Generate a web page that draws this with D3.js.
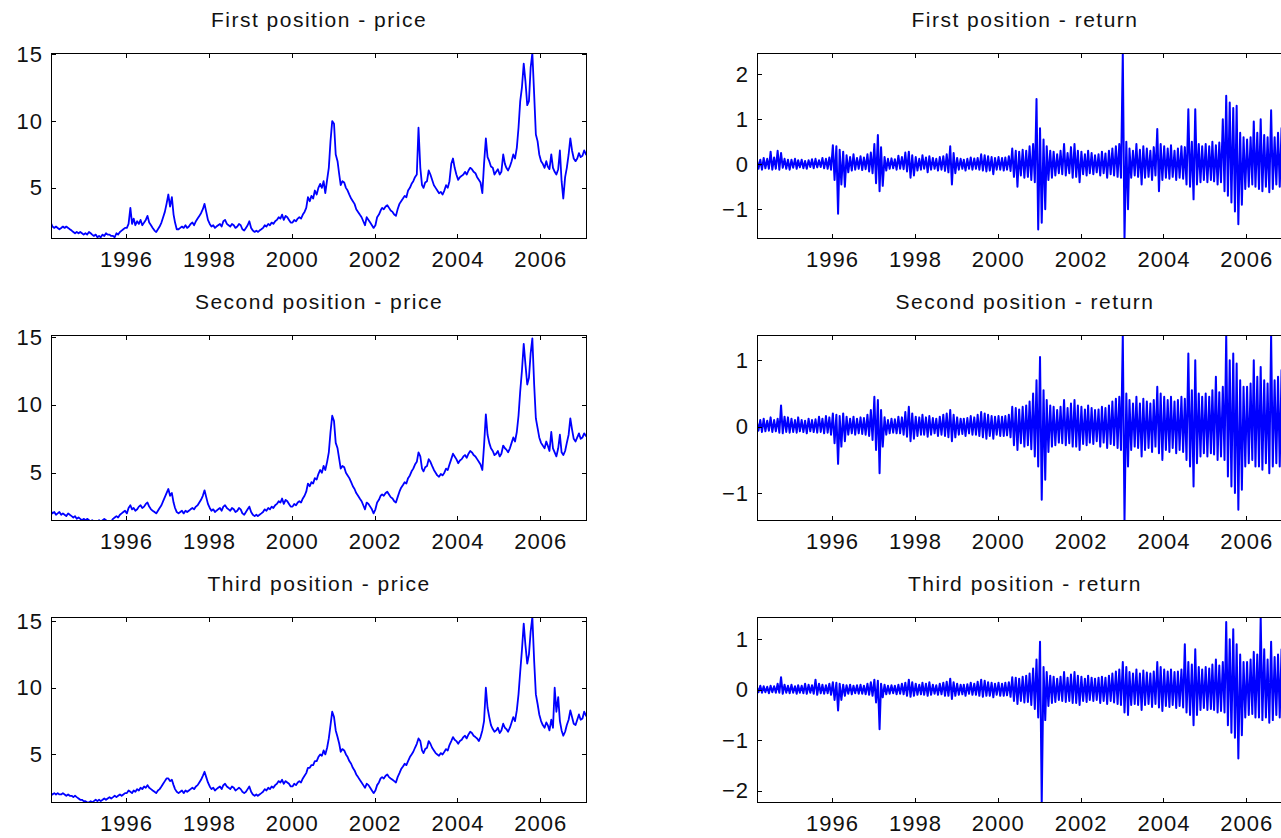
<!DOCTYPE html>
<html>
<head>
<meta charset="utf-8">
<script src="https://cdn.jsdelivr.net/npm/d3@7"></script>
<style>
  body { margin: 0; background: #fff; }
  svg { display: block; }
  text { font-family: "Liberation Sans", Arial, sans-serif; fill: #111; }
</style>
</head>
<body>
<svg width="1281" height="838"></svg>
<script>
// Readings, two per month (early / late), Mar 1994 - Feb 2007.
// One row per year; 1994 starts in March, 2007 stops after February.
const price1 = [
  2.4,2.1, 2.0,2.1, 2.0,1.9, 2.0,2.1, 2.0,2.1, 2.0,1.9, 1.8,1.7, 1.6,1.7, 1.6,1.7, 1.6,1.5,
  1.6,1.5, 1.7,1.6, 1.5,1.4, 1.5,1.3, 1.4,1.3, 1.5,1.4, 1.6,1.5, 1.5,1.4, 1.4,1.3, 1.6,1.5, 1.7,1.8, 1.9,2.0,
  2.0,2.3, 3.5,2.3, 2.7,2.2, 2.5,2.3, 2.6,2.2, 2.4,2.6, 2.9,2.4, 2.2,2.0, 1.8,1.7, 1.9,2.1, 2.4,2.8, 3.2,3.8,
  4.5,3.6, 4.3,3.0, 2.4,1.9, 1.9,2.0, 2.1,2.0, 2.2,2.0, 2.1,2.3, 2.4,2.2, 2.5,2.7, 2.9,3.1, 3.4,3.8, 3.2,2.6,
  2.3,2.1, 2.2,2.0, 2.1,2.2, 2.3,2.1, 2.5,2.6, 2.3,2.2, 2.1,2.3, 2.2,2.0, 2.1,2.3, 2.2,1.9, 1.8,2.0, 2.2,2.5,
  2.0,1.8, 1.7,1.8, 1.7,1.8, 1.9,2.0, 2.2,2.1, 2.3,2.2, 2.4,2.3, 2.5,2.6, 2.8,2.7, 3.0,2.6, 2.9,2.8, 2.6,2.4,
  2.4,2.6, 2.5,2.7, 2.8,2.7, 3.0,3.2, 3.5,4.3, 4.0,4.4, 4.2,4.8, 4.5,5.0, 5.3,5.0, 5.5,4.6, 5.6,6.5, 8.5,10.0,
  9.8,7.5, 7.0,6.0, 5.2,5.5, 5.4,5.0, 4.8,4.5, 4.2,4.0, 3.8,3.4, 3.2,3.0, 2.8,2.5, 2.2,2.8, 2.6,2.4, 2.2,2.0,
  2.2,2.8, 3.0,3.3, 3.5,3.4, 3.6,3.7, 3.5,3.3, 3.2,3.0, 2.9,3.4, 3.8,4.0, 4.2,4.4, 4.3,4.8, 5.0,5.3, 5.5,5.8,
  6.0,9.5, 6.5,5.2, 5.0,5.4, 5.5,6.3, 6.0,5.6, 5.2,5.0, 4.8,4.6, 4.7,4.5, 4.8,5.2, 5.0,5.5, 6.8,7.2, 6.5,6.0,
  5.6,5.8, 5.9,6.0, 6.2,6.0, 6.3,6.5, 6.4,6.2, 6.1,5.8, 5.6,5.4, 4.6,6.8, 8.7,7.3, 7.0,6.6, 6.5,6.0, 6.2,6.4,
  6.0,6.2, 7.5,6.8, 6.5,6.3, 6.6,7.0, 7.5,7.2, 8.0,9.5, 11.5,12.5, 14.3,13.0, 11.2,11.5, 14.0,15.1, 12.0,9.0, 8.5,7.5,
  7.0,6.8, 6.5,7.0, 6.6,6.4, 7.5,6.5, 6.2,6.0, 6.4,7.8, 5.5,4.2, 5.8,6.5, 7.5,8.7, 7.8,7.2, 7.0,7.2, 7.6,7.3,
  7.4,7.8, 7.5,7.6
];

const price2 = [
  2.2,2.0, 2.1,1.9, 2.0,2.1, 1.9,2.0, 1.9,1.8, 2.0,1.9, 1.8,1.7, 1.8,1.6, 1.7,1.6, 1.5,1.6,
  1.5,1.6, 1.5,1.4, 1.5,1.4, 1.3,1.4, 1.5,1.4, 1.5,1.6, 1.5,1.4, 1.3,1.4, 1.6,1.7, 1.8,1.7, 1.9,2.0, 2.1,2.2,
  2.0,2.4, 2.6,2.3, 2.4,2.2, 2.3,2.5, 2.6,2.4, 2.5,2.7, 2.8,2.5, 2.3,2.2, 2.1,2.0, 2.2,2.4, 2.6,2.9, 3.2,3.5,
  3.8,3.3, 3.5,2.8, 2.4,2.1, 2.0,2.1, 2.2,2.0, 2.2,2.1, 2.2,2.3, 2.4,2.3, 2.5,2.6, 2.8,3.0, 3.3,3.7, 3.2,2.7,
  2.4,2.2, 2.3,2.1, 2.2,2.3, 2.4,2.2, 2.5,2.6, 2.4,2.3, 2.2,2.4, 2.3,2.1, 2.2,2.4, 2.3,2.0, 1.9,2.1, 2.3,2.5,
  2.1,1.9, 1.8,1.9, 1.8,1.9, 2.0,2.1, 2.3,2.2, 2.4,2.3, 2.5,2.4, 2.6,2.7, 2.9,2.8, 3.1,2.7, 3.0,2.9, 2.7,2.5,
  2.5,2.7, 2.6,2.8, 2.9,2.8, 3.1,3.3, 3.6,4.2, 4.0,4.3, 4.2,4.6, 4.5,4.9, 5.2,5.0, 5.5,5.2, 5.8,6.5, 8.0,9.2,
  8.8,7.2, 6.8,6.0, 5.3,5.5, 5.4,5.0, 4.8,4.6, 4.3,4.0, 3.8,3.5, 3.3,3.1, 2.9,2.6, 2.3,2.8, 2.7,2.5, 2.3,2.0,
  2.3,2.8, 3.0,3.3, 3.4,3.3, 3.5,3.6, 3.4,3.2, 3.1,2.9, 2.8,3.2, 3.6,3.9, 4.1,4.3, 4.2,4.6, 4.8,5.1, 5.3,5.6,
  5.8,6.5, 6.2,5.3, 5.1,5.4, 5.5,6.0, 5.8,5.5, 5.2,5.0, 4.8,4.7, 4.9,4.8, 5.0,5.3, 5.2,5.6, 6.0,6.4, 6.2,6.0,
  5.7,5.9, 6.0,6.2, 6.3,6.1, 6.4,6.6, 6.5,6.3, 6.2,6.0, 5.8,5.6, 5.2,7.0, 9.3,7.8, 7.2,6.8, 6.6,6.3, 6.4,6.6,
  6.2,6.4, 7.0,6.8, 6.7,6.5, 6.8,7.2, 7.6,7.3, 8.0,9.2, 11.0,12.5, 14.5,13.0, 11.5,12.0, 13.8,14.9, 11.5,9.0, 8.3,7.6,
  7.2,7.0, 6.8,7.3, 7.0,6.6, 8.0,6.8, 6.5,6.2, 6.8,7.8, 6.5,6.3, 6.6,7.2, 7.8,9.0, 8.2,7.5, 7.3,7.6, 7.9,7.5,
  7.6,7.9, 7.7,7.8
];

const price3 = [
  2.1,2.0, 2.1,2.0, 2.1,2.0, 2.0,2.1, 2.0,1.9, 2.0,1.9, 1.9,1.8, 1.9,1.8, 1.7,1.6, 1.6,1.5,
  1.5,1.4, 1.4,1.5, 1.4,1.5, 1.6,1.5, 1.6,1.5, 1.6,1.7, 1.6,1.7, 1.8,1.7, 1.8,1.9, 1.8,1.9, 2.0,1.9, 2.0,2.1,
  2.1,2.3, 2.2,2.1, 2.3,2.2, 2.4,2.3, 2.5,2.4, 2.6,2.5, 2.7,2.5, 2.4,2.3, 2.2,2.1, 2.3,2.4, 2.6,2.8, 3.0,3.2,
  3.2,3.0, 3.1,2.7, 2.4,2.2, 2.1,2.2, 2.3,2.1, 2.3,2.2, 2.3,2.4, 2.5,2.4, 2.6,2.7, 2.9,3.1, 3.4,3.7, 3.3,2.9,
  2.6,2.4, 2.5,2.3, 2.4,2.5, 2.6,2.4, 2.7,2.8, 2.6,2.5, 2.4,2.6, 2.5,2.3, 2.4,2.5, 2.4,2.2, 2.1,2.2, 2.4,2.6,
  2.2,2.0, 1.9,2.0, 1.9,2.0, 2.1,2.2, 2.4,2.3, 2.5,2.4, 2.6,2.5, 2.7,2.8, 3.0,2.9, 3.1,2.8, 3.0,2.9, 2.8,2.6,
  2.6,2.8, 2.7,2.9, 3.0,2.9, 3.2,3.4, 3.6,4.0, 4.0,4.2, 4.2,4.5, 4.5,4.8, 5.0,4.9, 5.3,5.0, 5.5,6.2, 7.2,8.2,
  7.8,6.8, 6.3,5.8, 5.2,5.4, 5.3,5.0, 4.8,4.5, 4.3,4.0, 3.8,3.5, 3.3,3.1, 2.9,2.7, 2.5,2.8, 2.7,2.5, 2.3,2.1,
  2.3,2.7, 2.9,3.2, 3.3,3.2, 3.4,3.5, 3.3,3.2, 3.1,3.0, 2.9,3.3, 3.6,3.9, 4.1,4.3, 4.2,4.5, 4.8,5.0, 5.2,5.5,
  5.8,6.2, 6.0,5.3, 5.1,5.4, 5.5,6.0, 5.8,5.5, 5.3,5.1, 5.0,4.9, 5.1,5.0, 5.2,5.4, 5.3,5.7, 6.0,6.3, 6.1,6.0,
  5.8,6.0, 6.1,6.3, 6.4,6.2, 6.5,6.7, 6.6,6.4, 6.3,6.2, 6.0,6.3, 6.8,7.5, 10.0,8.5, 7.8,7.2, 6.9,6.7, 6.8,7.0,
  6.6,6.8, 7.3,7.0, 6.9,6.7, 7.0,7.4, 7.8,7.5, 8.3,9.5, 11.2,12.8, 14.8,13.2, 11.8,12.5, 14.2,15.3, 12.0,9.5, 8.8,8.0,
  7.5,7.2, 7.0,7.4, 7.2,6.8, 7.6,7.0, 10.0,8.2, 9.3,7.5, 6.8,6.4, 6.7,7.2, 7.6,8.3, 7.8,7.3, 7.2,7.6, 8.0,7.6,
  7.7,8.2, 7.9,8.1
];

// returns: upper swing, then lower swing, each half month
const return1 = [
  0.12,-0.10, 0.10,-0.12, 0.14,-0.09, 0.12,-0.10, 0.28,-0.12, 0.15,-0.10, 0.30,-0.12, 0.25,-0.08, 0.12,-0.10, 0.10,-0.12,
  0.10,-0.08, 0.12,-0.10, 0.09,-0.07, 0.10,-0.09, 0.07,-0.10, 0.09,-0.06, 0.11,-0.09, 0.12,-0.07, 0.09,-0.06, 0.14,-0.09, 0.12,-0.10, 0.15,-0.12,
  0.42,-0.35, 0.40,-1.10, 0.32,-0.45, 0.28,-0.50, 0.20,-0.18, 0.16,-0.14, 0.22,-0.12, 0.14,-0.10, 0.18,-0.13, 0.15,-0.11, 0.22,-0.16, 0.26,-0.20,
  0.45,-0.42, 0.65,-0.60, 0.38,-0.48, 0.16,-0.14, 0.12,-0.10, 0.13,-0.09, 0.11,-0.12, 0.19,-0.10, 0.16,-0.11, 0.26,-0.16, 0.28,-0.30, 0.20,-0.25,
  0.16,-0.14, 0.12,-0.12, 0.20,-0.10, 0.15,-0.18, 0.18,-0.12, 0.14,-0.10, 0.12,-0.14, 0.16,-0.12, 0.18,-0.15, 0.22,-0.18, 0.40,-0.45, 0.25,-0.20,
  0.14,-0.12, 0.12,-0.10, 0.10,-0.14, 0.12,-0.10, 0.15,-0.12, 0.13,-0.10, 0.14,-0.12, 0.22,-0.14, 0.20,-0.16, 0.18,-0.14, 0.16,-0.22, 0.14,-0.12,
  0.16,-0.12, 0.14,-0.14, 0.15,-0.12, 0.18,-0.15, 0.35,-0.28, 0.30,-0.50, 0.28,-0.25, 0.32,-0.30, 0.30,-0.28, 0.40,-0.35, 0.45,-0.40, 1.45,-1.45,
  0.80,-1.30, 0.55,-1.00, 0.40,-0.35, 0.30,-0.30, 0.28,-0.25, 0.22,-0.20, 0.30,-0.22, 0.45,-0.25, 0.25,-0.20, 0.38,-0.30, 0.45,-0.28, 0.30,-0.40,
  0.28,-0.22, 0.22,-0.25, 0.30,-0.20, 0.25,-0.22, 0.20,-0.18, 0.22,-0.25, 0.28,-0.20, 0.24,-0.30, 0.30,-0.22, 0.35,-0.25, 0.40,-0.28, 0.45,-0.30,
  2.47,-1.66, 0.50,-1.00, 0.35,-0.30, 0.30,-0.25, 0.45,-0.28, 0.32,-0.45, 0.40,-0.30, 0.35,-0.28, 0.30,-0.35, 0.38,-0.25, 0.78,-0.60, 0.45,-0.35,
  0.40,-0.30, 0.35,-0.32, 0.42,-0.28, 0.30,-0.35, 0.35,-0.30, 0.40,-0.32, 0.38,-0.45, 1.22,-0.50, 0.50,-0.78, 1.22,-0.45, 0.45,-0.40, 0.40,-0.35,
  0.45,-0.40, 0.40,-0.35, 0.50,-0.38, 0.42,-0.45, 0.48,-0.40, 1.00,-0.60, 1.52,-0.70, 1.37,-0.85, 1.25,-1.05, 1.30,-1.33, 0.70,-0.90, 0.60,-0.55,
  0.55,-0.50, 0.60,-0.45, 0.95,-0.50, 0.70,-0.55, 1.00,-0.60, 0.65,-0.50, 0.60,-0.62, 1.20,-0.55, 0.60,-0.45, 0.70,-0.50, 0.80,-0.55, 0.65,-0.50,
  0.60,-0.45, 0.55,-0.40
];

const return2 = [
  0.08,-0.06, 0.10,-0.08, 0.12,-0.07, 0.09,-0.06, 0.14,-0.08, 0.10,-0.07, 0.12,-0.09, 0.32,-0.10, 0.15,-0.08, 0.14,-0.09,
  0.12,-0.08, 0.10,-0.09, 0.14,-0.07, 0.10,-0.08, 0.09,-0.10, 0.12,-0.07, 0.10,-0.08, 0.11,-0.09, 0.15,-0.08, 0.12,-0.10, 0.16,-0.09, 0.14,-0.12,
  0.20,-0.25, 0.18,-0.56, 0.16,-0.30, 0.20,-0.22, 0.15,-0.12, 0.12,-0.10, 0.15,-0.12, 0.12,-0.10, 0.14,-0.11, 0.13,-0.12, 0.18,-0.14, 0.25,-0.20,
  0.45,-0.35, 0.40,-0.70, 0.25,-0.30, 0.14,-0.12, 0.10,-0.10, 0.12,-0.09, 0.11,-0.10, 0.15,-0.10, 0.14,-0.12, 0.22,-0.15, 0.30,-0.22, 0.20,-0.18,
  0.15,-0.14, 0.14,-0.12, 0.18,-0.12, 0.14,-0.15, 0.16,-0.12, 0.13,-0.10, 0.12,-0.14, 0.15,-0.12, 0.18,-0.14, 0.20,-0.16, 0.25,-0.22, 0.18,-0.16,
  0.14,-0.12, 0.12,-0.11, 0.12,-0.14, 0.13,-0.10, 0.16,-0.12, 0.14,-0.12, 0.18,-0.14, 0.22,-0.16, 0.20,-0.18, 0.18,-0.14, 0.16,-0.18, 0.15,-0.12,
  0.16,-0.14, 0.15,-0.14, 0.16,-0.13, 0.18,-0.16, 0.30,-0.28, 0.28,-0.35, 0.26,-0.25, 0.30,-0.30, 0.32,-0.28, 0.38,-0.34, 0.50,-0.45, 0.70,-0.60,
  1.05,-1.10, 0.55,-0.80, 0.40,-0.38, 0.32,-0.30, 0.30,-0.28, 0.25,-0.24, 0.30,-0.25, 0.40,-0.28, 0.28,-0.25, 0.35,-0.30, 0.40,-0.30, 0.32,-0.35,
  0.30,-0.26, 0.26,-0.28, 0.32,-0.24, 0.28,-0.26, 0.25,-0.22, 0.26,-0.30, 0.30,-0.24, 0.28,-0.32, 0.32,-0.26, 0.38,-0.28, 0.42,-0.32, 0.45,-0.35,
  1.38,-1.42, 0.50,-0.60, 0.40,-0.35, 0.35,-0.30, 0.45,-0.32, 0.35,-0.45, 0.42,-0.35, 0.38,-0.32, 0.35,-0.38, 0.40,-0.30, 0.60,-0.40, 0.50,-0.50,
  0.45,-0.35, 0.40,-0.38, 0.45,-0.32, 0.38,-0.40, 0.40,-0.35, 0.45,-0.38, 0.42,-0.50, 1.10,-0.60, 0.55,-0.90, 1.00,-0.55, 0.50,-0.45, 0.45,-0.40,
  0.50,-0.45, 0.45,-0.40, 0.55,-0.42, 0.75,-0.50, 0.52,-0.45, 0.60,-0.50, 1.38,-0.75, 1.00,-0.90, 1.10,-1.00, 0.95,-1.25, 0.70,-0.95, 0.60,-0.60,
  0.60,-0.55, 0.65,-0.50, 1.00,-0.60, 0.75,-0.60, 0.90,-0.65, 0.70,-0.55, 0.65,-0.70, 1.38,-0.60, 0.70,-0.55, 0.75,-0.60, 0.85,-0.60, 0.70,-0.55,
  0.65,-0.50, 0.60,-0.45
];

const return3 = [
  0.06,-0.05, 0.08,-0.06, 0.07,-0.05, 0.06,-0.07, 0.08,-0.05, 0.07,-0.06, 0.12,-0.06, 0.25,-0.08, 0.10,-0.06, 0.08,-0.07,
  0.10,-0.06, 0.07,-0.08, 0.09,-0.06, 0.08,-0.07, 0.12,-0.08, 0.10,-0.06, 0.09,-0.08, 0.20,-0.10, 0.12,-0.07, 0.10,-0.08, 0.09,-0.07, 0.12,-0.10,
  0.15,-0.20, 0.14,-0.41, 0.12,-0.20, 0.10,-0.12, 0.09,-0.08, 0.10,-0.09, 0.08,-0.07, 0.09,-0.08, 0.10,-0.08, 0.08,-0.09, 0.12,-0.10, 0.15,-0.12,
  0.20,-0.25, 0.18,-0.78, 0.12,-0.15, 0.10,-0.09, 0.08,-0.08, 0.09,-0.07, 0.08,-0.09, 0.10,-0.08, 0.12,-0.09, 0.14,-0.12, 0.20,-0.14, 0.15,-0.12,
  0.12,-0.10, 0.10,-0.09, 0.14,-0.10, 0.12,-0.12, 0.15,-0.10, 0.10,-0.08, 0.09,-0.10, 0.12,-0.09, 0.14,-0.12, 0.16,-0.12, 0.22,-0.18, 0.15,-0.12,
  0.12,-0.10, 0.10,-0.09, 0.10,-0.12, 0.11,-0.08, 0.14,-0.10, 0.12,-0.10, 0.16,-0.12, 0.20,-0.14, 0.18,-0.12, 0.15,-0.12, 0.14,-0.15, 0.12,-0.10,
  0.14,-0.12, 0.12,-0.12, 0.14,-0.11, 0.15,-0.14, 0.25,-0.22, 0.24,-0.28, 0.22,-0.22, 0.26,-0.25, 0.28,-0.24, 0.32,-0.30, 0.42,-0.38, 0.60,-0.55,
  0.95,-2.24, 0.45,-0.60, 0.35,-0.32, 0.28,-0.26, 0.26,-0.24, 0.22,-0.20, 0.26,-0.22, 0.35,-0.24, 0.24,-0.22, 0.30,-0.26, 0.35,-0.26, 0.28,-0.30,
  0.26,-0.22, 0.22,-0.24, 0.28,-0.20, 0.24,-0.22, 0.22,-0.20, 0.24,-0.26, 0.26,-0.22, 0.24,-0.28, 0.28,-0.22, 0.32,-0.25, 0.36,-0.28, 0.40,-0.30,
  0.55,-0.45, 0.45,-0.50, 0.35,-0.30, 0.32,-0.28, 0.40,-0.30, 0.32,-0.40, 0.38,-0.30, 0.34,-0.28, 0.32,-0.34, 0.36,-0.28, 0.55,-0.35, 0.45,-0.42,
  0.40,-0.32, 0.36,-0.34, 0.40,-0.30, 0.35,-0.36, 0.36,-0.32, 0.40,-0.35, 0.90,-0.45, 0.55,-0.50, 0.50,-0.70, 0.80,-0.50, 0.45,-0.40, 0.40,-0.36,
  0.45,-0.40, 0.42,-0.38, 0.50,-0.40, 0.60,-0.45, 0.48,-0.42, 0.55,-0.45, 1.34,-0.70, 1.00,-0.85, 1.20,-0.95, 0.90,-1.36, 0.70,-0.90, 0.55,-0.55,
  0.55,-0.50, 0.60,-0.48, 0.75,-0.55, 0.70,-0.55, 1.44,-0.60, 0.80,-0.55, 0.60,-0.65, 0.95,-0.60, 0.65,-0.50, 0.70,-0.55, 0.80,-0.55, 0.65,-0.50,
  0.60,-0.45, 0.55,-0.40
];

const titles = [
  "First position - price", "First position - return",
  "Second position - price", "Second position - return",
  "Third position - price", "Third position - return"
];
const yearTicks = [1996, 1998, 2000, 2002, 2004, 2006];
const priceTicks = [5, 10, 15];
const return1Ticks = [-1, 0, 1, 2];
const return2Ticks = [-1, 0, 1];
const return3Ticks = [-2, -1, 0, 1];
// axis limits as they show in the picture (tight to the data)
const priceLimits = [[1.17, 15.1], [1.44, 15.15], [1.36, 15.3]];
const returnLimits = [[-1.66, 2.47], [-1.42, 1.38], [-2.24, 1.44]];

const svg = d3.select("svg");

// sampling dates: early and late in each month
const dates = d3.timeMonth
  .range(new Date(1994, 2, 1), new Date(2007, 2, 1))
  .flatMap((m) => [d3.timeDay.offset(m, 7), d3.timeDay.offset(m, 22)]);

const colX = [51, 757],
  rowY = [53, 335, 617],
  plotW = 536,
  plotH = 186;

const panels = [
  { values: price1, limits: priceLimits[0], ticks: priceTicks, width: 1.8 },
  { values: return1, limits: returnLimits[0], ticks: return1Ticks, width: 2 },
  { values: price2, limits: priceLimits[1], ticks: priceTicks, width: 1.8 },
  { values: return2, limits: returnLimits[1], ticks: return2Ticks, width: 2 },
  { values: price3, limits: priceLimits[2], ticks: priceTicks, width: 1.8 },
  { values: return3, limits: returnLimits[2], ticks: return3Ticks, width: 2 }
];

const x = d3
  .scaleTime()
  .domain([new Date(1994, 2, 10), new Date(2007, 1, 17)])
  .range([0, plotW]);

const xTickDates = yearTicks.map((y) => new Date(y, 0, 1));

panels.forEach((p, i) => {
  const col = i % 2,
    row = Math.floor(i / 2);
  const y = d3.scaleLinear().domain(p.limits).range([plotH, 0]);

  const g = svg
    .append("g")
    .attr("transform", `translate(${colX[col]},${rowY[row]})`);

  g.append("clipPath")
    .attr("id", "clip" + i)
    .append("rect")
    .attr("width", plotW)
    .attr("height", plotH);

  // the series
  g.append("path")
    .datum(p.values)
    .attr("clip-path", `url(#clip${i})`)
    .attr("fill", "none")
    .attr("stroke", "#0000ff")
    .attr("stroke-width", p.width)
    .attr("stroke-linejoin", "round")
    .attr(
      "d",
      d3
        .line()
        .x((d, j) => x(dates[j]))
        .y((d) => y(d))
    );

  // MATLAB style box with inward ticks on all four sides
  const bottom = g
    .append("g")
    .attr("transform", `translate(0,${plotH})`)
    .call(
      d3
        .axisBottom(x)
        .tickValues(xTickDates)
        .tickFormat(d3.timeFormat("%Y"))
        .tickSizeInner(-5)
        .tickSizeOuter(0)
        .tickPadding(12)
    );
  const top = g.append("g").call(
    d3.axisTop(x).tickValues(xTickDates).tickFormat("").tickSizeInner(-5).tickSizeOuter(0)
  );
  const left = g.append("g").call(
    d3
      .axisLeft(y)
      .tickValues(p.ticks)
      .tickFormat(d3.format("d"))
      .tickSizeInner(-5)
      .tickSizeOuter(0)
      .tickPadding(8)
  );
  const right = g
    .append("g")
    .attr("transform", `translate(${plotW},0)`)
    .call(d3.axisRight(y).tickValues(p.ticks).tickFormat("").tickSizeInner(-5).tickSizeOuter(0));

  [bottom, top, left, right].forEach((a) => {
    a.select(".domain").remove();
    a.selectAll("line").attr("stroke", "#000").attr("shape-rendering", "crispEdges");
    a.selectAll("text")
      .attr("fill", "#111")
      .style("font-size", "22px")
      .style("letter-spacing", "1px")
      .style("font-family", '"Liberation Sans", Arial, sans-serif');
  });

  g.append("rect")
    .attr("x", 0.5)
    .attr("y", 0.5)
    .attr("width", plotW - 1)
    .attr("height", plotH - 1)
    .attr("fill", "none")
    .attr("stroke", "#000")
    .attr("shape-rendering", "crispEdges");

  g.append("text")
    .attr("x", plotW / 2)
    .attr("y", -26)
    .attr("text-anchor", "middle")
    .style("font-size", "21px")
    .style("letter-spacing", "1.5px")
    .text(titles[i]);
});
</script>
</body>
</html>
